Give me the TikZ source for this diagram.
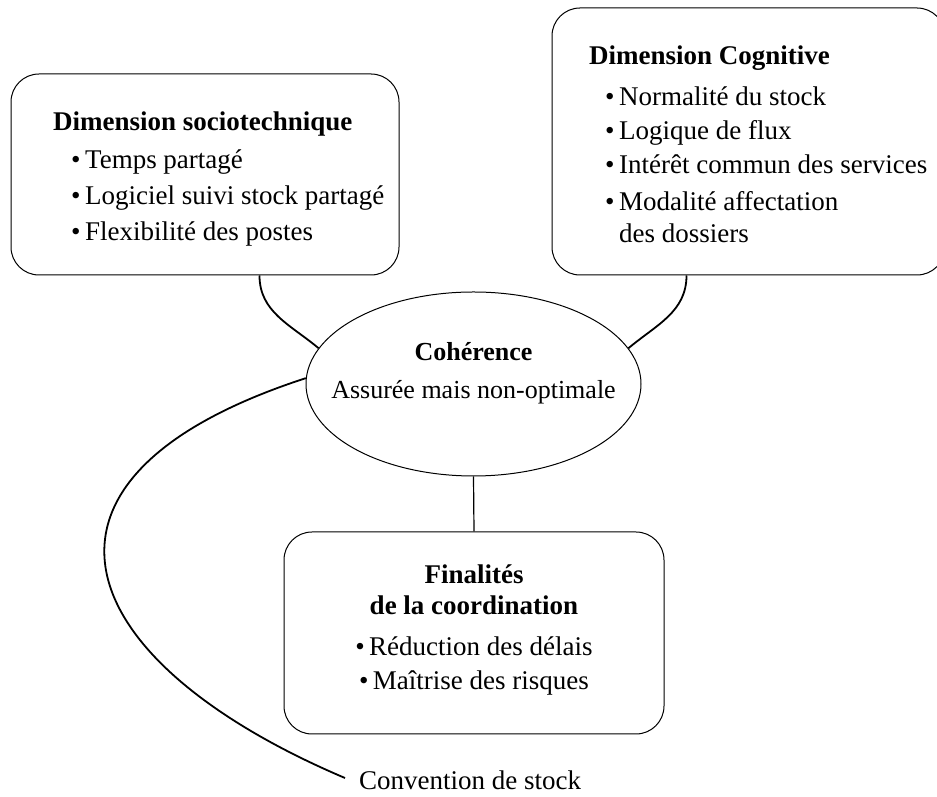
\documentclass[tikz,border=0pt]{standalone}
\usepackage{fontspec}
\setmainfont{Liberation Serif}
\usetikzlibrary{shapes.geometric}

\begin{document}
\begin{tikzpicture}[
            x=1pt, y=1pt,
            every node/.style={font=\fontsize{27}{36}\selectfont, inner sep=0pt},
            box/.style={draw, line width=1pt, rounded corners=28pt},
            link/.style={line width=1.8pt},
        ]
            \useasboundingbox (0, 0) rectangle (937, 797);

            % the three boxes and the ellipse
            \node[box, minimum width=388pt, minimum height=201pt] (socio) at (205, 622.5) {};
            \node[box, minimum width=393pt, minimum height=267pt] (cogn) at (748.5, 655.5) {};
            \node[box, minimum width=380pt, minimum height=202pt] (fin) at (474, 164) {};
            \node[draw, line width=1pt, ellipse, minimum width=335pt, minimum height=184pt] (coh) at (473.5, 413) {};

            \node[anchor=north west, align=left] (sociotext) at (53, 685) {%
                \textbf{Dimension sociotechnique}\\[2pt]
                \hspace*{18pt}\textbullet\,Temps partagé\\
                \hspace*{18pt}\textbullet\,Logiciel suivi stock partagé\\
                \hspace*{18pt}\textbullet\,Flexibilité des postes};
            \node[anchor=north west, align=left] (cogntext) at (589, 751) {%
                \textbf{Dimension Cognitive}\\[5pt]
                \hspace*{16pt}\textbullet\,Normalité du stock\\[-2pt]
                \hspace*{16pt}\textbullet\,Logique de flux\\[-2pt]
                \hspace*{16pt}\textbullet\,Intérêt commun des services\\[1pt]
                \hspace*{16pt}\textbullet\,Modalité affectation\\[-4pt]
                \hspace*{16pt}\hphantom{\textbullet\,}des dossiers};
            \node[anchor=north, align=center] (fintext) at (474, 232) {%
                \textbf{Finalités}\\[-5pt]
                \textbf{de la coordination}\\[5pt]
                \textbullet\,Réduction des délais\\[-2pt]
                \textbullet\,Maîtrise des risques};
            \node[align=center, font=\fontsize{26}{36}\selectfont] (cohtext) at (473.5, 424) {%
                \textbf{Cohérence}\\[2pt]
                Assurée mais non-optimale};
            \node[anchor=west] (conv) at (359, 17) {Convention de stock};

            % connectors
            \draw[link] ([xshift=249pt]socio.south west) to[out=-90, in=140] (coh.167);
            \draw[link] ([xshift=135pt]cogn.south west) to[out=-90, in=40] (coh.13);
            \draw[line width=1.2pt] (coh.south) -- (fin.north);
            \draw[link] (coh.178) .. controls +(198:325pt) and +(157:299pt) .. ([xshift=-14pt, yshift=2pt]conv.west);
        \end{tikzpicture}
\end{document}
